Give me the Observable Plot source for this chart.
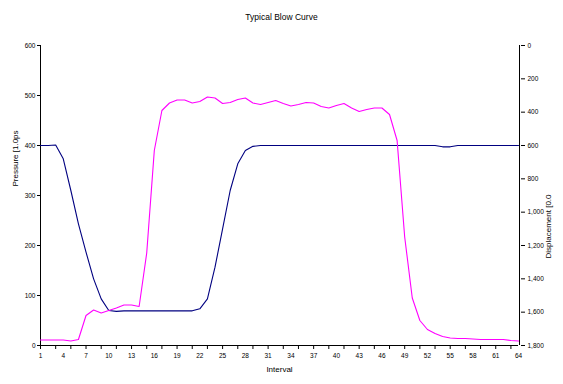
<!DOCTYPE html>
<html>
<head>
<meta charset="utf-8">
<script src="https://cdn.jsdelivr.net/npm/d3@7"></script>
<script src="https://cdn.jsdelivr.net/npm/@observablehq/plot@0.6"></script>
<style>
  html, body { margin: 0; padding: 0; background: #fff; }
</style>
</head>
<body>
<div id="chart"></div>
<script>
const title = "Typical Blow Curve";
const xLabel = "Interval";
const leftLabel = "Pressure [1.0ps";
const rightLabel = "Displacement [0.0";

const intervals = d3.range(1, 65);
const pressure = [
  11, 11, 11, 11, 9, 12, 60, 71, 65, 70,
  75, 81, 81, 78, 185, 390, 470, 485, 491, 491,
  485, 488, 497, 495, 484, 486, 492, 495, 485, 482,
  486, 490, 484, 479, 482, 486, 485, 478, 475, 480,
  484, 475, 468, 472, 475, 475, 462, 410, 217, 95,
  50, 32, 24, 18, 15, 14, 14, 13, 12, 12,
  12, 12, 10, 9
];
const displacement = [
  600, 600, 597, 680, 870, 1070, 1240, 1400, 1520, 1590,
  1595, 1592, 1592, 1592, 1592, 1592, 1592, 1592, 1592, 1592,
  1592, 1580, 1520, 1330, 1100, 870, 710, 630, 605, 600,
  600, 600, 600, 600, 600, 600, 600, 600, 600, 600,
  600, 600, 600, 600, 600, 600, 600, 600, 600, 600,
  600, 600, 600, 608, 608, 600, 600, 600, 600, 600,
  600, 600, 600, 600
];
const leftTicks = [0, 100, 200, 300, 400, 500, 600];
const rightTicks = [0, 200, 400, 600, 800, 1000, 1200, 1400, 1600, 1800];
const xLabelTicks = d3.range(1, 65, 3);
const xTickMarks = d3.range(1, 65, 2);

// displacement axis (0 at top, 1800 at bottom) mapped onto pressure scale
const dispToY = d => 600 - d / 3;
const yToDisp = v => (600 - v) * 3;

const pData = intervals.map((x, i) => ({x, v: pressure[i]}));
const dData = intervals.map((x, i) => ({x, v: dispToY(displacement[i])}));

const font = "'Liberation Sans', Arial, sans-serif";

const chart = Plot.plot({
  width: 563,
  height: 384,
  marginLeft: 40,
  marginRight: 45,
  marginTop: 45,
  marginBottom: 39,
  style: {fontFamily: font, fontSize: "6.5px", background: "#fff", color: "#000"},
  x: {domain: [1, 64]},
  y: {domain: [0, 600]},
  marks: [
    // left axis
    Plot.axisY(leftTicks, {anchor: "left", tickSize: 3, tickPadding: 2, label: null, tickFormat: d => d}),
    // right axis (displacement)
    Plot.axisY(rightTicks.map(dispToY), {anchor: "right", tickSize: 4, tickPadding: 3, dx: 2, label: null,
      tickFormat: v => d3.format(",")(Math.round(yToDisp(v)))}),
    // bottom tick marks
    Plot.axisX(xTickMarks, {anchor: "bottom", tickSize: 4, tickFormat: () => "", label: null}),
    // bottom labels
    Plot.axisX(xLabelTicks, {anchor: "bottom", tickSize: 0, tickPadding: 8, label: null, tickFormat: d => d}),
    // axis lines
    Plot.ruleX([1], {stroke: "#000"}),
    Plot.ruleX([64], {stroke: "#000", dx: 1}),
    Plot.ruleY([0], {stroke: "#000"}),
    // series
    Plot.line(dData, {x: "x", y: "v", stroke: "#000080", strokeWidth: 1.1}),
    Plot.line(pData, {x: "x", y: "v", stroke: "#FF00FF", strokeWidth: 1.1}),
    // texts
    Plot.text([title], {frameAnchor: "top", dx: 2, dy: -28, lineAnchor: "middle", fontSize: 8.5, fill: "#000"}),
    Plot.text([xLabel], {frameAnchor: "bottom", dy: 24, lineAnchor: "middle", fontSize: 8, fill: "#000"}),
    Plot.text([leftLabel], {frameAnchor: "left", dx: -25, dy: -9, rotate: -90, lineAnchor: "middle", fontSize: 8, fill: "#000"}),
    Plot.text([rightLabel], {frameAnchor: "right", dx: 30, dy: -1, rotate: -90, lineAnchor: "middle", fontSize: 8, fill: "#000"})
  ]
});

document.getElementById("chart").appendChild(chart);
</script>
</body>
</html>
